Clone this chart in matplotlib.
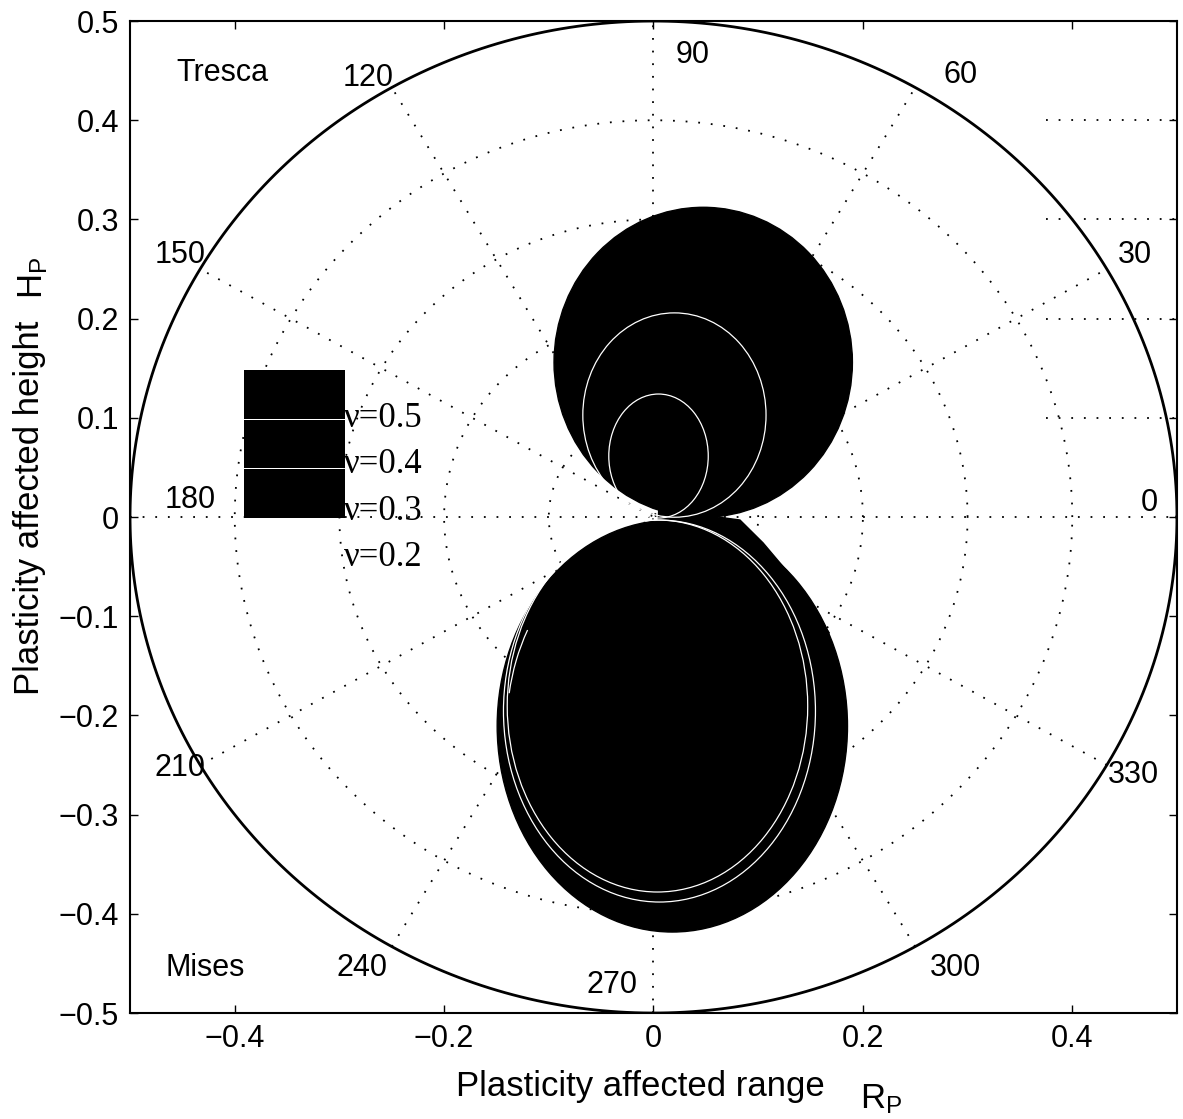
import numpy as np
import matplotlib
matplotlib.use("Agg")
import matplotlib.pyplot as plt
from matplotlib.patches import Ellipse, Arc, Polygon

plt.rcParams['font.family'] = ['Liberation Sans', 'DejaVu Sans']
plt.rcParams['mathtext.fontset'] = 'custom'
plt.rcParams['mathtext.rm'] = 'Liberation Sans'

# polar grid of the plot (radius of rings, spoke angles in degrees)
RMAX = 0.5
rings = [0.1, 0.2, 0.3, 0.4]
spokes = [0, 30, 60, 90, 120, 150]

# Tresca zone: outer filled boundary + inner nu curves (centre x, centre y, width, height)
tresca_outer = (0.0475, 0.156, 0.285, 0.3125)
tresca_inner = [(0.020, 0.1028, 0.175, 0.206),
                (0.0048, 0.0615, 0.095, 0.125)]

# Mises zone
mises_outer = (0.018, -0.2107, 0.3346, 0.4153)
mises_inner = [(0.0038, -0.1905, 0.287, 0.375),
               (0.0057, -0.1956, 0.298, 0.385)]
mises_edge_arc = (0.018, -0.2107, 0.316, 0.40, 145, 168)

# neck joining both zones on the right of the origin
neck_x = [0.005, 0.0826, 0.1046, 0.137, 0.168, 0.0]
neck_y = [0.008, -0.003, -0.026, -0.0665, -0.117, -0.117]

nu_labels = ['\u03bd=0.5', '\u03bd=0.4', '\u03bd=0.3', '\u03bd=0.2']

angle_labels = [('0', 0.474, 0.014), ('30', 0.460, 0.264), ('60', 0.293, 0.446),
                ('90', 0.037, 0.466), ('120', -0.273, 0.443), ('150', -0.452, 0.264),
                ('180', -0.443, 0.017), ('210', -0.452, -0.253), ('240', -0.278, -0.455),
                ('270', -0.040, -0.472), ('300', 0.288, -0.455), ('330', 0.458, -0.260)]

fig = plt.figure(figsize=(11.83, 11.19), dpi=100)
ax = fig.add_axes([0.1099, 0.0947, 0.885, 0.8865])
ax.set_xlim(-0.5, 0.5)
ax.set_ylim(-0.5, 0.5)

dots = dict(color='black', lw=1.3, linestyle=(0, (1, 6)), zorder=1)

# cartesian grid pieces left visible in the upper right corner
for yy in [0.4, 0.3, 0.2, 0.1]:
    ax.plot([0.375, 0.5], [yy, yy], **dots)

# polar grid
t = np.linspace(0, 2 * np.pi, 400)
for r in rings:
    ax.plot(r * np.cos(t), r * np.sin(t), **dots)
for a in spokes:
    th = np.deg2rad(a)
    ax.plot([-RMAX * np.cos(th), RMAX * np.cos(th)],
            [-RMAX * np.sin(th), RMAX * np.sin(th)], **dots)
ax.plot(RMAX * np.cos(t), RMAX * np.sin(t), color='black', lw=2.0, zorder=2)

# filled zones
for cx, cy, w, h in [tresca_outer, mises_outer]:
    ax.add_patch(Ellipse((cx, cy), w, h, facecolor='black', edgecolor='black',
                         lw=1, zorder=3))
ax.add_patch(Polygon(np.column_stack([neck_x, neck_y]), closed=True,
                     facecolor='black', edgecolor='black', lw=1, zorder=3))
for cx, cy, w, h in tresca_inner + mises_inner:
    ax.add_patch(Ellipse((cx, cy), w, h, facecolor='none', edgecolor='white',
                         lw=0.9, zorder=4))
cx, cy, w, h, t1, t2 = mises_edge_arc
ax.add_patch(Arc((cx, cy), w, h, theta1=t1, theta2=t2, color='white', lw=0.9, zorder=4))

# legend block
for y0 in [0.099, 0.049, -0.001]:
    ax.add_patch(plt.Rectangle((-0.391, y0), 0.096, 0.049, facecolor='black',
                               edgecolor='none', zorder=5))
for i, lab in enumerate(nu_labels):
    ax.text(-0.296, 0.099 - 0.0465 * i, lab, family=['Liberation Serif'],
            fontsize=25, ha='left', va='center', zorder=6)

for lab, x, y in angle_labels:
    ax.text(x, y, lab, fontsize=22, ha='center', va='center')
ax.text(-0.412, 0.448, 'Tresca', fontsize=22, ha='center', va='center')
ax.text(-0.428, -0.455, 'Mises', fontsize=22, ha='center', va='center')

ax.set_xticks([-0.4, -0.2, 0, 0.2, 0.4])
ax.set_xticklabels(['\u22120.4', '\u22120.2', '0', '0.2', '0.4'])
ax.set_yticks(np.round(np.arange(-0.5, 0.51, 0.1), 1))
ax.set_yticklabels(['\u22120.5', '\u22120.4', '\u22120.3', '\u22120.2', '\u22120.1', '0',
                    '0.1', '0.2', '0.3', '0.4', '0.5'])
ax.tick_params(direction='in', length=6, width=1, labelsize=22, top=True, right=True,
               pad=8)
for s in ax.spines.values():
    s.set_linewidth(1.5)

fig.text(0.541, 0.029, 'Plasticity affected range', fontsize=25, ha='center', va='center')
fig.text(0.745, 0.018, r'$\mathregular{R_P}$', fontsize=25, ha='center', va='center')
fig.text(0.025, 0.546, 'Plasticity affected height', fontsize=25, rotation=90,
         ha='center', va='center')
fig.text(0.028, 0.752, r'$\mathregular{H_P}$', fontsize=25, rotation=90,
         ha='center', va='center')

fig.savefig('out.png', dpi=100)
